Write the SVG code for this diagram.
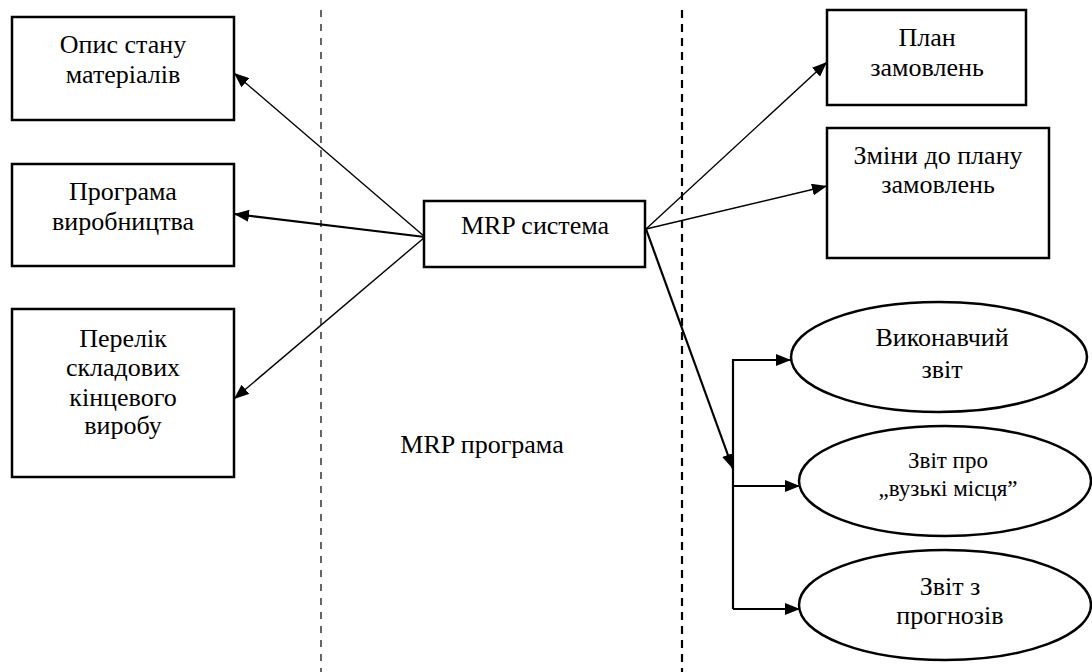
<svg xmlns="http://www.w3.org/2000/svg" width="1092" height="672" viewBox="0 0 1092 672" font-family="Liberation Serif, DejaVu Serif, serif">
<defs>
<marker id="arr" markerUnits="userSpaceOnUse" markerWidth="16" markerHeight="12" refX="15" refY="6" orient="auto">
<path d="M0,0 L15,6 L0,12 z" fill="#000"/>
</marker>
<style>
.box{fill:#fff;stroke:#000;stroke-width:2.5}
.t{font-size:26px;fill:#000;text-anchor:middle}
.s{font-size:23px}
.c{fill:none;stroke:#000}
.thin{stroke-width:1.4}
.thick{stroke-width:2.2}
</style>
</defs>
<rect width="1092" height="672" fill="#fff"/>
<g id="dividers">
<line x1="321" y1="10" x2="321" y2="672" stroke="#000" stroke-width="1.2" stroke-dasharray="7,7"/>
<line x1="682" y1="10" x2="682" y2="672" stroke="#000" stroke-width="2.2" stroke-dasharray="8,6"/>
</g>
<g id="connectors">
<line class="c thin" x1="425" y1="237" x2="234" y2="73" marker-end="url(#arr)"/>
<line class="c thick" x1="425" y1="237" x2="234" y2="214" marker-end="url(#arr)"/>
<line class="c thin" x1="425" y1="237" x2="234" y2="399" marker-end="url(#arr)"/>
<line class="c thin" x1="646" y1="229" x2="827" y2="62" marker-end="url(#arr)"/>
<line class="c thin" x1="646" y1="229" x2="827" y2="186" marker-end="url(#arr)"/>
<line class="c thick" x1="646" y1="229" x2="733" y2="469" marker-end="url(#arr)"/>
<polyline class="c thick" points="791,360 733,360 733,609"/>
<line class="c thick" x1="733" y1="360" x2="791" y2="360" marker-end="url(#arr)"/>
<line class="c thick" x1="733" y1="486" x2="800" y2="486" marker-end="url(#arr)"/>
<line class="c thick" x1="733" y1="609" x2="800" y2="609" marker-end="url(#arr)"/>
</g>
<g id="n-opys">
<rect class="box" x="12" y="17" width="222" height="103"/>
<text class="t" x="123" y="53">Опис стану</text>
<text class="t" x="123" y="83">матеріалів</text>
</g>
<g id="n-prohrama">
<rect class="box" x="12" y="164" width="222" height="102"/>
<text class="t" x="123" y="200">Програма</text>
<text class="t" x="123" y="230">виробництва</text>
</g>
<g id="n-perelik">
<rect class="box" x="12" y="309" width="222" height="168"/>
<text class="t" x="123" y="347">Перелік</text>
<text class="t" x="123" y="376">складових</text>
<text class="t" x="123" y="406">кінцевого</text>
<text class="t" x="123" y="434">виробу</text>
</g>
<g id="n-mrp">
<rect class="box" x="424" y="201" width="221" height="66"/>
<text class="t" x="535" y="234">MRP система</text>
</g>
<g id="n-mrp-label">
<text class="t" x="482" y="453">MRP програма</text>
</g>
<g id="n-plan">
<rect class="box" x="827" y="10" width="199" height="95"/>
<text class="t" x="927" y="46">План</text>
<text class="t" x="927" y="76">замовлень</text>
</g>
<g id="n-zminy">
<rect class="box" x="827" y="128" width="222" height="130"/>
<text class="t" x="938" y="164">Зміни до плану</text>
<text class="t" x="938" y="193">замовлень</text>
</g>
<g id="n-vykon">
<ellipse class="box" cx="939" cy="357" rx="148" ry="55"/>
<text class="t" x="942" y="346">Виконавчий</text>
<text class="t" x="942" y="378">звіт</text>
</g>
<g id="n-vuzki">
<ellipse class="box" cx="945" cy="481" rx="146" ry="55"/>
<text class="t s" x="948" y="468">Звіт про</text>
<text class="t s" x="948" y="496">„вузькі місця”</text>
</g>
<g id="n-prohnoz">
<ellipse class="box" cx="945" cy="605" rx="146" ry="55"/>
<text class="t" x="950" y="595">Звіт з</text>
<text class="t" x="950" y="624">прогнозів</text>
</g>
</svg>
